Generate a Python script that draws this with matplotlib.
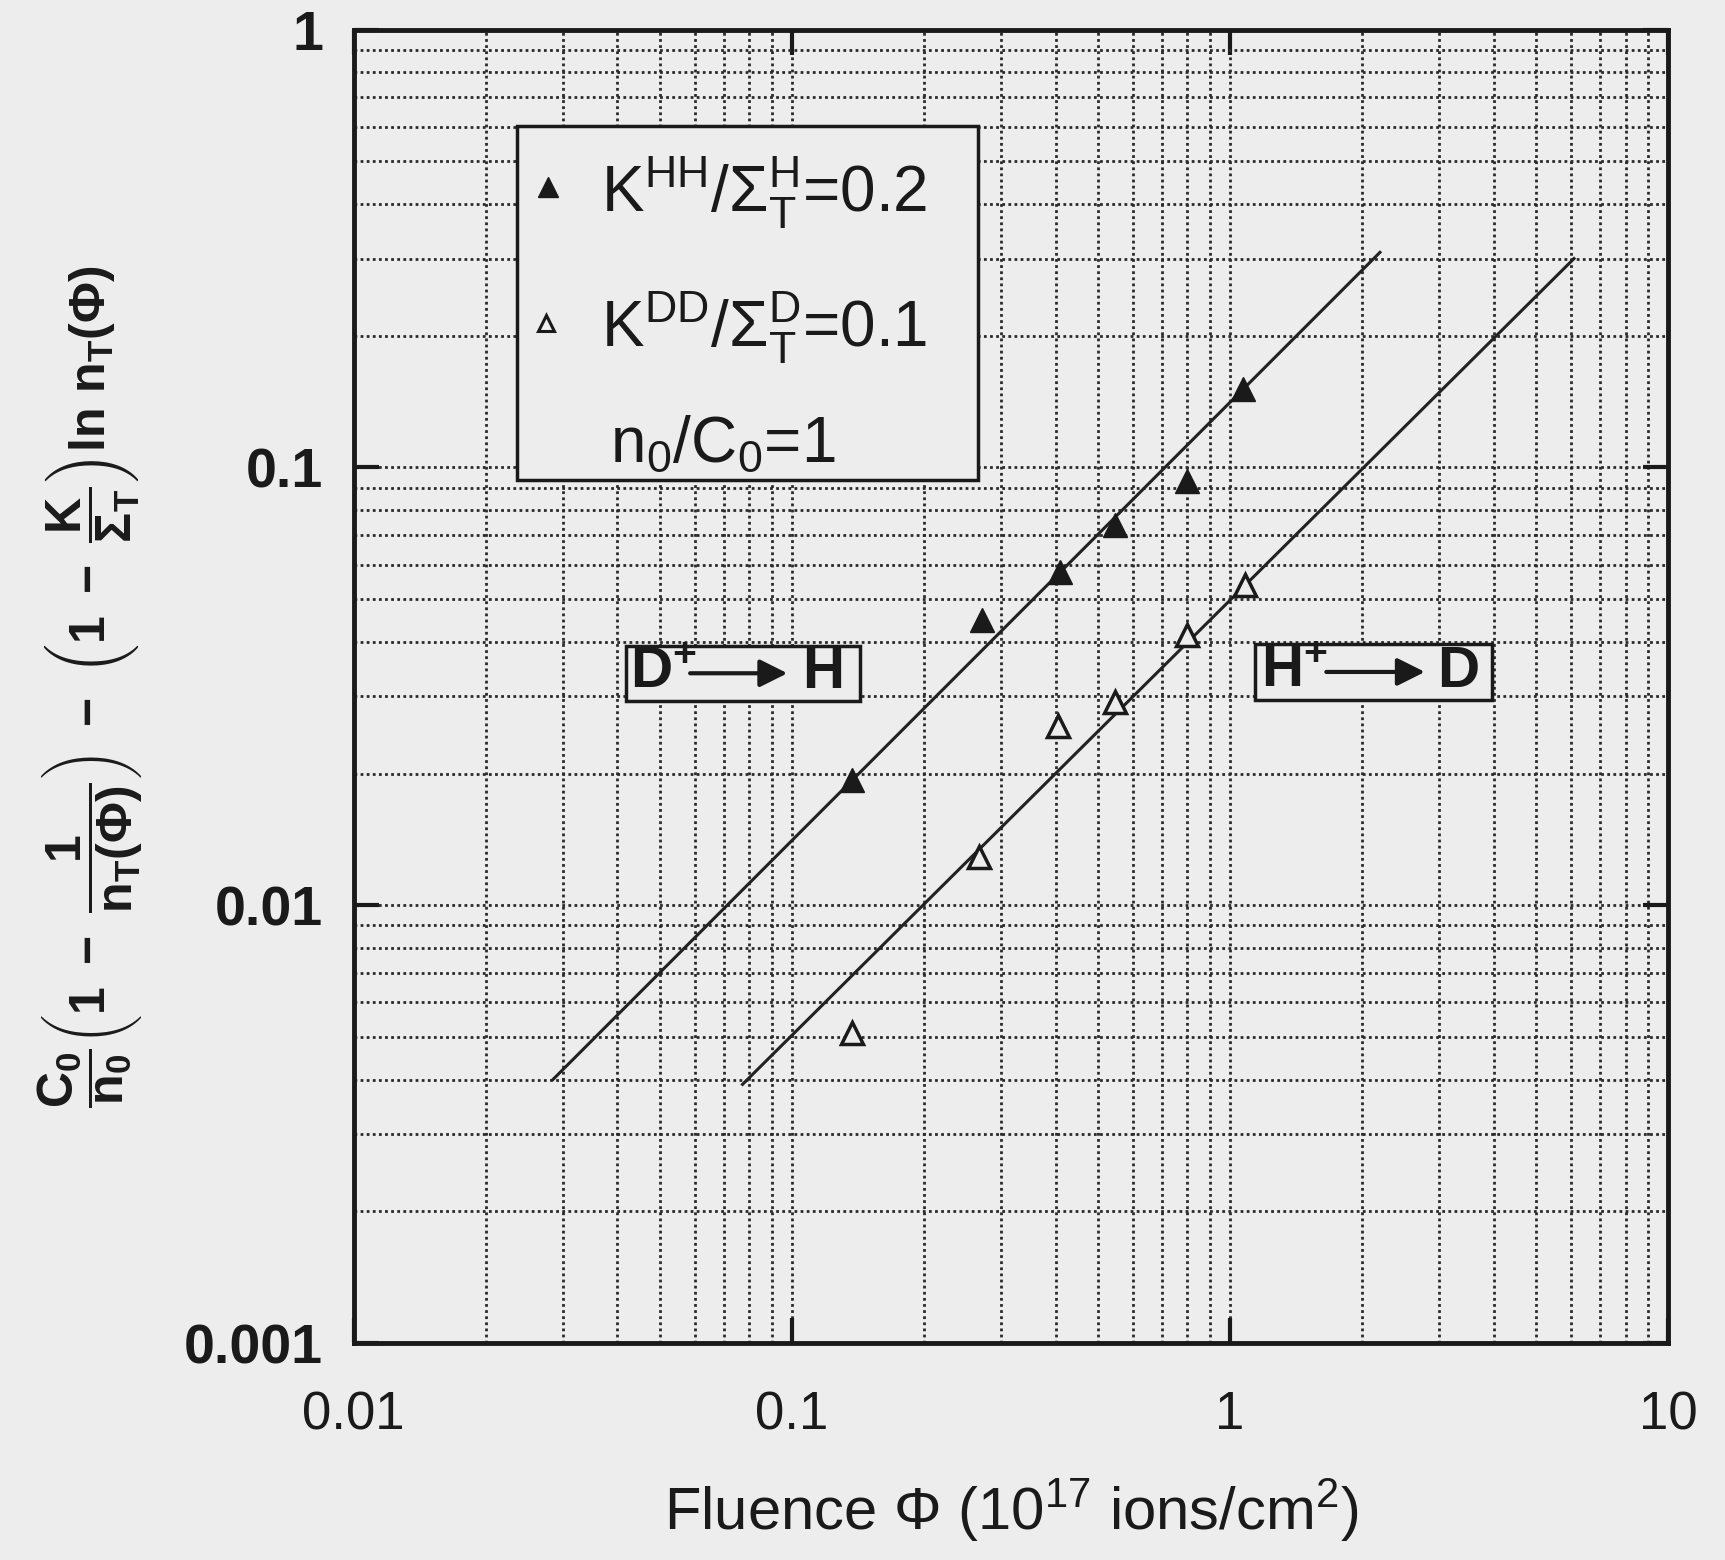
import matplotlib
matplotlib.use('Agg')
import matplotlib.pyplot as plt
from matplotlib.ticker import FixedLocator, FixedFormatter, LogLocator, NullFormatter
from matplotlib.patches import Rectangle

plt.rcParams['font.family'] = ['Liberation Sans', 'DejaVu Sans']
plt.rcParams['mathtext.fontset'] = 'custom'
plt.rcParams['mathtext.rm'] = 'Liberation Sans'
plt.rcParams['mathtext.it'] = 'Liberation Sans'
plt.rcParams['mathtext.bf'] = 'Liberation Sans:bold'
plt.rcParams['mathtext.default'] = 'regular'

# ---- data ----
fluence_hh = [0.137, 0.272, 0.41, 0.548, 0.80, 1.07]
value_hh = [0.0193, 0.0448, 0.0577, 0.0738, 0.093, 0.151]
fluence_dd = [0.137, 0.267, 0.405, 0.548, 0.80, 1.08]
value_dd = [0.0051, 0.0129, 0.0257, 0.0292, 0.0414, 0.054]
fit_hh_x = [0.0285, 2.2]
fit_hh_y = [0.0040, 0.31]
fit_dd_x = [0.0772, 6.1]
fit_dd_y = [0.0039, 0.30]
xticks = [0.01, 0.1, 1, 10]
xticklabels = ['0.01', '0.1', '1', '10']
yticks = [0.001, 0.01, 0.1, 1]
yticklabels = ['0.001', '0.01', '0.1', '1']

bg = '#eeedee'
ink = '#1a1a1a'
fig = plt.figure(figsize=(17.25, 15.6), dpi=100, facecolor=bg)
ax = fig.add_axes([0.205, 0.139, 0.762, 0.842])
ax.set_facecolor(bg)
ax.set_xscale('log')
ax.set_yscale('log')
ax.set_xlim(0.01, 10)
ax.set_ylim(0.001, 1)

for s in ax.spines.values():
    s.set_linewidth(3.5)
    s.set_color(ink)

ax.xaxis.set_major_locator(FixedLocator(xticks))
ax.xaxis.set_major_formatter(FixedFormatter(xticklabels))
ax.yaxis.set_major_locator(FixedLocator(yticks))
ax.yaxis.set_major_formatter(FixedFormatter(yticklabels))
ax.xaxis.set_minor_locator(LogLocator(base=10, subs=range(2, 10)))
ax.yaxis.set_minor_locator(LogLocator(base=10, subs=range(2, 10)))
ax.xaxis.set_minor_formatter(NullFormatter())
ax.yaxis.set_minor_formatter(NullFormatter())

ax.tick_params(which='major', direction='in', length=18, width=3, top=True, right=True,
               colors=ink)
ax.tick_params(which='minor', length=0)
ax.tick_params(axis='x', which='major', labelsize=38, pad=34)
ax.tick_params(axis='y', which='major', labelsize=40, pad=22)
for lab in ax.get_yticklabels():
    lab.set_fontweight('bold')

ax.grid(which='both', linestyle=(0, (1, 1.2)), linewidth=2.0, color='#2a2a2a', zorder=0)
ax.set_axisbelow(True)

# fitted lines
ax.plot(fit_hh_x, fit_hh_y, color='#222222', lw=2.2, zorder=2)
ax.plot(fit_dd_x, fit_dd_y, color='#222222', lw=2.2, zorder=2)
# data
ax.plot(fluence_hh, value_hh, linestyle='none', marker='^', ms=17, mfc=ink, mec=ink, zorder=3)
ax.plot(fluence_dd, value_dd, linestyle='none', marker='^', ms=16, mfc=bg, mec=ink, mew=2.5, zorder=3)

# legend box
ax.add_patch(Rectangle((0.124, 0.657), 0.351, 0.270, transform=ax.transAxes,
                       facecolor=bg, edgecolor=ink, lw=2.5, zorder=4))
ax.plot([0.148], [0.880], transform=ax.transAxes, marker='^', ms=14, mfc=ink,
        mec=ink, linestyle='none', zorder=5, clip_on=False)
ax.plot([0.146], [0.777], transform=ax.transAxes, marker='^', ms=12, mfc=bg,
        mec=ink, mew=2.2, linestyle='none', zorder=5, clip_on=False)
ax.text(0.188, 0.876, r'K$^{HH}$/$\Sigma^{H}_{T}$=0.2', transform=ax.transAxes,
        fontsize=46, ha='left', va='center', zorder=5, color=ink)
ax.text(0.188, 0.773, r'K$^{DD}$/$\Sigma^{D}_{T}$=0.1', transform=ax.transAxes,
        fontsize=46, ha='left', va='center', zorder=5, color=ink)
ax.text(0.195, 0.684, r'n$_0$/C$_0$=1', transform=ax.transAxes,
        fontsize=46, ha='left', va='center', zorder=5, color=ink)

# process labels
def process_box(x0, x1, yc, left, a0, a1, right_c, l1, l2):
    ax.add_patch(Rectangle((x0, yc - 0.021), x1 - x0, 0.042, transform=ax.transAxes,
                           facecolor=bg, edgecolor=ink, lw=2.5, zorder=4))
    ax.text(left, yc, l1, transform=ax.transAxes, fontsize=42, fontweight='bold',
            ha='left', va='center', zorder=5, color=ink)
    ax.annotate('', xy=(a1, yc), xytext=(a0, yc), xycoords='axes fraction',
                arrowprops=dict(arrowstyle='-|>', lw=3, mutation_scale=42, color=ink,
                                shrinkA=0, shrinkB=0), zorder=5)
    ax.text(right_c, yc, l2, transform=ax.transAxes, fontsize=42, fontweight='bold',
            ha='center', va='center', zorder=5, color=ink)

process_box(0.207, 0.385, 0.510, 0.210, 0.256, 0.330, 0.357, r'D$^{+}$', 'H')
process_box(0.686, 0.866, 0.511, 0.690, 0.740, 0.815, 0.840, r'H$^{+}$', 'D')

ax.set_xlabel(r'Fluence $\Phi$ (10$^{17}$ ions/cm$^{2}$)', fontsize=43, labelpad=26,
              color=ink)
ax.set_ylabel(r'$\dfrac{C_0}{n_0}\left(1\ -\ \dfrac{1}{n_T(\Phi)}\right)\ -\ \left(1\ -\ \dfrac{K}{\Sigma_T}\right)$ln n$_T(\Phi)$',
              fontsize=36, fontweight='bold', labelpad=28, color=ink)

fig.savefig('out.png', dpi=100, facecolor=bg)
